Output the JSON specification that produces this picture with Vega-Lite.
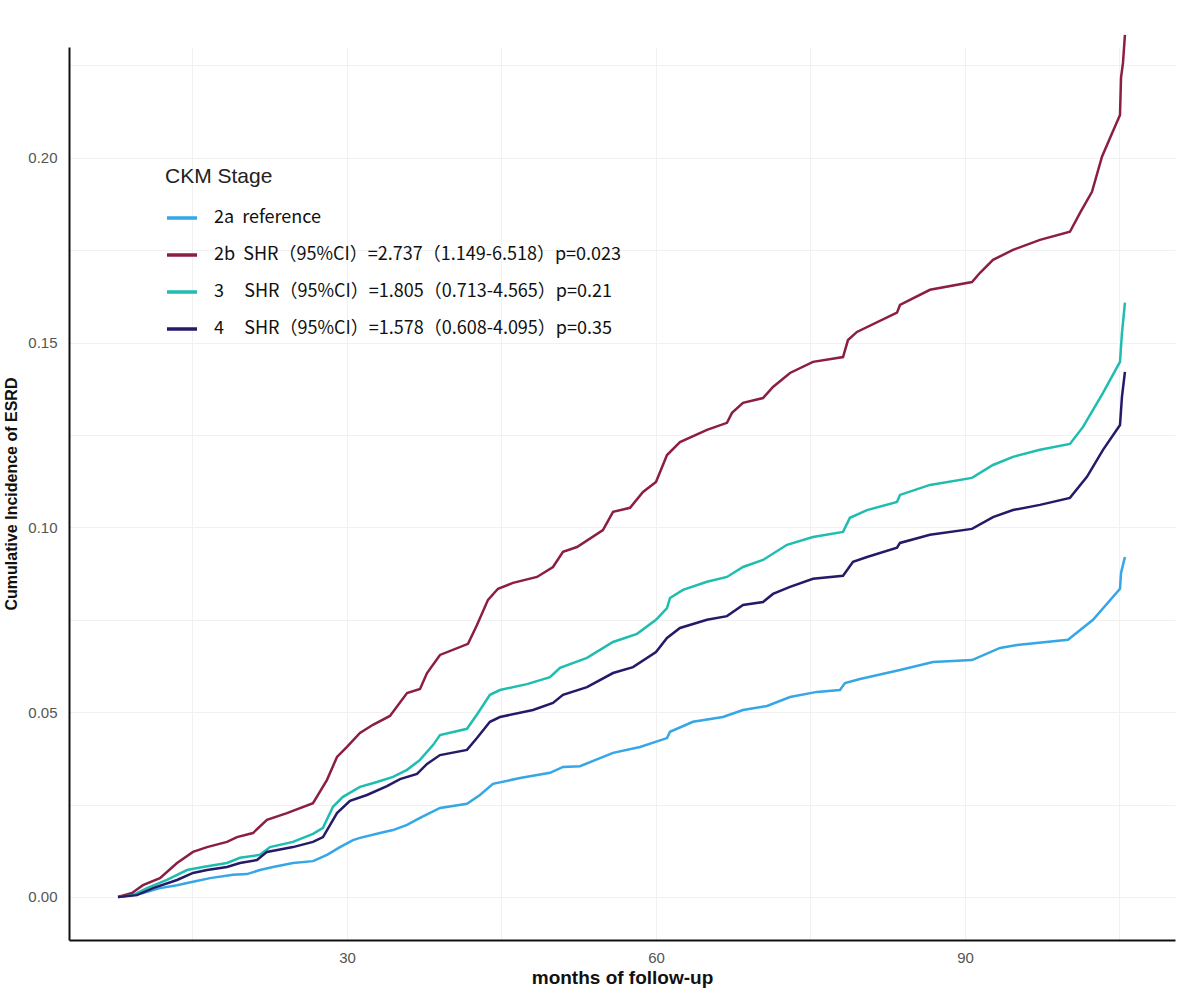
{
  "$schema": "https://vega.github.io/schema/vega-lite/v6.json",
  "width": 1106,
  "height": 893,
  "autosize": "none",
  "padding": {"left": 69, "top": 47, "right": 6, "bottom": 53},
  "background": "white",
  "config": {
    "view": {"stroke": null},
    "font": "Liberation Sans"
  },
  "data": {
    "values": [
      {"stage": "2a", "month": 7.77, "cif": 0},
      {"stage": "2a", "month": 10.19, "cif": 0.0011},
      {"stage": "2a", "month": 11.84, "cif": 0.0024},
      {"stage": "2a", "month": 13.5, "cif": 0.0032},
      {"stage": "2a", "month": 15.05, "cif": 0.0041},
      {"stage": "2a", "month": 16.7, "cif": 0.0051},
      {"stage": "2a", "month": 18.93, "cif": 0.006},
      {"stage": "2a", "month": 20.29, "cif": 0.0062},
      {"stage": "2a", "month": 21.55, "cif": 0.0073},
      {"stage": "2a", "month": 22.82, "cif": 0.0081},
      {"stage": "2a", "month": 24.76, "cif": 0.0092},
      {"stage": "2a", "month": 26.7, "cif": 0.0097},
      {"stage": "2a", "month": 28.06, "cif": 0.0114},
      {"stage": "2a", "month": 29.32, "cif": 0.0135},
      {"stage": "2a", "month": 30.58, "cif": 0.0154},
      {"stage": "2a", "month": 31.26, "cif": 0.016},
      {"stage": "2a", "month": 33.2, "cif": 0.0173},
      {"stage": "2a", "month": 34.47, "cif": 0.0181},
      {"stage": "2a", "month": 35.83, "cif": 0.0195},
      {"stage": "2a", "month": 37.09, "cif": 0.0214},
      {"stage": "2a", "month": 39.03, "cif": 0.0241},
      {"stage": "2a", "month": 41.65, "cif": 0.0252},
      {"stage": "2a", "month": 42.91, "cif": 0.0276},
      {"stage": "2a", "month": 44.17, "cif": 0.0306},
      {"stage": "2a", "month": 46.8, "cif": 0.0322},
      {"stage": "2a", "month": 49.71, "cif": 0.0336},
      {"stage": "2a", "month": 50.97, "cif": 0.0352},
      {"stage": "2a", "month": 52.62, "cif": 0.0354},
      {"stage": "2a", "month": 55.83, "cif": 0.039},
      {"stage": "2a", "month": 58.45, "cif": 0.0406},
      {"stage": "2a", "month": 61.07, "cif": 0.043},
      {"stage": "2a", "month": 61.36, "cif": 0.0447},
      {"stage": "2a", "month": 63.59, "cif": 0.0474},
      {"stage": "2a", "month": 66.5, "cif": 0.0487},
      {"stage": "2a", "month": 68.45, "cif": 0.0506},
      {"stage": "2a", "month": 70.78, "cif": 0.0517},
      {"stage": "2a", "month": 73.01, "cif": 0.0541},
      {"stage": "2a", "month": 75.63, "cif": 0.0555},
      {"stage": "2a", "month": 77.86, "cif": 0.056},
      {"stage": "2a", "month": 78.35, "cif": 0.0579},
      {"stage": "2a", "month": 79.81, "cif": 0.059},
      {"stage": "2a", "month": 83.69, "cif": 0.0614},
      {"stage": "2a", "month": 86.89, "cif": 0.0636},
      {"stage": "2a", "month": 90.68, "cif": 0.0641},
      {"stage": "2a", "month": 93.4, "cif": 0.0674},
      {"stage": "2a", "month": 95.05, "cif": 0.0682},
      {"stage": "2a", "month": 100.0, "cif": 0.0696},
      {"stage": "2a", "month": 102.43, "cif": 0.075},
      {"stage": "2a", "month": 105.05, "cif": 0.0834},
      {"stage": "2a", "month": 105.15, "cif": 0.0877},
      {"stage": "2a", "month": 105.53, "cif": 0.092},

      {"stage": "2b", "month": 7.77, "cif": 0},
      {"stage": "2b", "month": 9.13, "cif": 0.0011},
      {"stage": "2b", "month": 10.19, "cif": 0.0032},
      {"stage": "2b", "month": 11.84, "cif": 0.0051},
      {"stage": "2b", "month": 13.5, "cif": 0.0092},
      {"stage": "2b", "month": 15.05, "cif": 0.0122},
      {"stage": "2b", "month": 16.41, "cif": 0.0135},
      {"stage": "2b", "month": 18.35, "cif": 0.0149},
      {"stage": "2b", "month": 19.32, "cif": 0.0162},
      {"stage": "2b", "month": 20.87, "cif": 0.0173},
      {"stage": "2b", "month": 22.23, "cif": 0.0209},
      {"stage": "2b", "month": 24.17, "cif": 0.0227},
      {"stage": "2b", "month": 26.7, "cif": 0.0254},
      {"stage": "2b", "month": 28.06, "cif": 0.0317},
      {"stage": "2b", "month": 29.03, "cif": 0.0379},
      {"stage": "2b", "month": 30.0, "cif": 0.0406},
      {"stage": "2b", "month": 31.26, "cif": 0.0444},
      {"stage": "2b", "month": 32.52, "cif": 0.0466},
      {"stage": "2b", "month": 34.17, "cif": 0.049},
      {"stage": "2b", "month": 35.83, "cif": 0.0552},
      {"stage": "2b", "month": 37.09, "cif": 0.0563},
      {"stage": "2b", "month": 37.77, "cif": 0.0606},
      {"stage": "2b", "month": 39.03, "cif": 0.0655},
      {"stage": "2b", "month": 41.75, "cif": 0.0685},
      {"stage": "2b", "month": 42.62, "cif": 0.0736},
      {"stage": "2b", "month": 43.69, "cif": 0.0804},
      {"stage": "2b", "month": 44.66, "cif": 0.0834},
      {"stage": "2b", "month": 46.12, "cif": 0.085},
      {"stage": "2b", "month": 48.45, "cif": 0.0866},
      {"stage": "2b", "month": 50.0, "cif": 0.0893},
      {"stage": "2b", "month": 50.97, "cif": 0.0934},
      {"stage": "2b", "month": 52.33, "cif": 0.0947},
      {"stage": "2b", "month": 54.85, "cif": 0.0993},
      {"stage": "2b", "month": 55.83, "cif": 0.1042},
      {"stage": "2b", "month": 57.48, "cif": 0.1053},
      {"stage": "2b", "month": 58.74, "cif": 0.1096},
      {"stage": "2b", "month": 60.0, "cif": 0.1123},
      {"stage": "2b", "month": 61.07, "cif": 0.1196},
      {"stage": "2b", "month": 62.33, "cif": 0.1231},
      {"stage": "2b", "month": 64.95, "cif": 0.1264},
      {"stage": "2b", "month": 66.89, "cif": 0.1283},
      {"stage": "2b", "month": 67.38, "cif": 0.131},
      {"stage": "2b", "month": 68.45, "cif": 0.1337},
      {"stage": "2b", "month": 70.39, "cif": 0.135},
      {"stage": "2b", "month": 71.36, "cif": 0.138},
      {"stage": "2b", "month": 73.01, "cif": 0.1418},
      {"stage": "2b", "month": 75.24, "cif": 0.1448},
      {"stage": "2b", "month": 78.16, "cif": 0.1461},
      {"stage": "2b", "month": 78.64, "cif": 0.1507},
      {"stage": "2b", "month": 79.51, "cif": 0.1529},
      {"stage": "2b", "month": 83.4, "cif": 0.1581},
      {"stage": "2b", "month": 83.69, "cif": 0.1602},
      {"stage": "2b", "month": 86.6, "cif": 0.1643},
      {"stage": "2b", "month": 90.68, "cif": 0.1664},
      {"stage": "2b", "month": 91.46, "cif": 0.1689},
      {"stage": "2b", "month": 92.72, "cif": 0.1724},
      {"stage": "2b", "month": 94.66, "cif": 0.1751},
      {"stage": "2b", "month": 97.28, "cif": 0.1778},
      {"stage": "2b", "month": 100.19, "cif": 0.18},
      {"stage": "2b", "month": 101.17, "cif": 0.1851},
      {"stage": "2b", "month": 102.33, "cif": 0.1908},
      {"stage": "2b", "month": 103.3, "cif": 0.2003},
      {"stage": "2b", "month": 104.08, "cif": 0.2054},
      {"stage": "2b", "month": 105.05, "cif": 0.2116},
      {"stage": "2b", "month": 105.15, "cif": 0.2217},
      {"stage": "2b", "month": 105.34, "cif": 0.2257},
      {"stage": "2b", "month": 105.53, "cif": 0.2333},

      {"stage": "3", "month": 7.77, "cif": 0},
      {"stage": "3", "month": 9.22, "cif": 0.0005},
      {"stage": "3", "month": 10.58, "cif": 0.0024},
      {"stage": "3", "month": 12.52, "cif": 0.0046},
      {"stage": "3", "month": 14.47, "cif": 0.0073},
      {"stage": "3", "month": 16.02, "cif": 0.0081},
      {"stage": "3", "month": 18.35, "cif": 0.0092},
      {"stage": "3", "month": 19.61, "cif": 0.0106},
      {"stage": "3", "month": 21.55, "cif": 0.0114},
      {"stage": "3", "month": 22.52, "cif": 0.0135},
      {"stage": "3", "month": 24.76, "cif": 0.0149},
      {"stage": "3", "month": 26.7, "cif": 0.0171},
      {"stage": "3", "month": 27.67, "cif": 0.0187},
      {"stage": "3", "month": 28.64, "cif": 0.0244},
      {"stage": "3", "month": 29.61, "cif": 0.0271},
      {"stage": "3", "month": 31.26, "cif": 0.0298},
      {"stage": "3", "month": 32.91, "cif": 0.0311},
      {"stage": "3", "month": 34.47, "cif": 0.0325},
      {"stage": "3", "month": 35.83, "cif": 0.0344},
      {"stage": "3", "month": 37.09, "cif": 0.0371},
      {"stage": "3", "month": 38.35, "cif": 0.0411},
      {"stage": "3", "month": 39.03, "cif": 0.0438},
      {"stage": "3", "month": 41.65, "cif": 0.0455},
      {"stage": "3", "month": 42.72, "cif": 0.0498},
      {"stage": "3", "month": 43.88, "cif": 0.0547},
      {"stage": "3", "month": 44.85, "cif": 0.056},
      {"stage": "3", "month": 47.48, "cif": 0.0576},
      {"stage": "3", "month": 49.71, "cif": 0.0595},
      {"stage": "3", "month": 50.68, "cif": 0.062},
      {"stage": "3", "month": 53.3, "cif": 0.0647},
      {"stage": "3", "month": 55.83, "cif": 0.069},
      {"stage": "3", "month": 58.16, "cif": 0.0712},
      {"stage": "3", "month": 60.0, "cif": 0.075},
      {"stage": "3", "month": 61.07, "cif": 0.0782},
      {"stage": "3", "month": 61.36, "cif": 0.0809},
      {"stage": "3", "month": 62.62, "cif": 0.0831},
      {"stage": "3", "month": 64.95, "cif": 0.0853},
      {"stage": "3", "month": 66.89, "cif": 0.0866},
      {"stage": "3", "month": 68.45, "cif": 0.0893},
      {"stage": "3", "month": 70.39, "cif": 0.0912},
      {"stage": "3", "month": 72.72, "cif": 0.0953},
      {"stage": "3", "month": 75.24, "cif": 0.0974},
      {"stage": "3", "month": 78.16, "cif": 0.0988},
      {"stage": "3", "month": 78.83, "cif": 0.1026},
      {"stage": "3", "month": 80.49, "cif": 0.1047},
      {"stage": "3", "month": 83.4, "cif": 0.1069},
      {"stage": "3", "month": 83.69, "cif": 0.1088},
      {"stage": "3", "month": 86.6, "cif": 0.1115},
      {"stage": "3", "month": 90.68, "cif": 0.1134},
      {"stage": "3", "month": 92.72, "cif": 0.1169},
      {"stage": "3", "month": 94.66, "cif": 0.1191},
      {"stage": "3", "month": 97.28, "cif": 0.121},
      {"stage": "3", "month": 100.19, "cif": 0.1226},
      {"stage": "3", "month": 101.46, "cif": 0.1272},
      {"stage": "3", "month": 103.4, "cif": 0.1364},
      {"stage": "3", "month": 105.05, "cif": 0.1448},
      {"stage": "3", "month": 105.24, "cif": 0.1526},
      {"stage": "3", "month": 105.53, "cif": 0.1608},

      {"stage": "4", "month": 7.77, "cif": 0},
      {"stage": "4", "month": 9.61, "cif": 0.0005},
      {"stage": "4", "month": 11.17, "cif": 0.0024},
      {"stage": "4", "month": 13.5, "cif": 0.0046},
      {"stage": "4", "month": 15.05, "cif": 0.0065},
      {"stage": "4", "month": 16.41, "cif": 0.0073},
      {"stage": "4", "month": 18.35, "cif": 0.0081},
      {"stage": "4", "month": 19.61, "cif": 0.0092},
      {"stage": "4", "month": 21.26, "cif": 0.01},
      {"stage": "4", "month": 22.23, "cif": 0.0122},
      {"stage": "4", "month": 24.76, "cif": 0.0135},
      {"stage": "4", "month": 26.7, "cif": 0.0149},
      {"stage": "4", "month": 27.67, "cif": 0.0162},
      {"stage": "4", "month": 29.03, "cif": 0.0227},
      {"stage": "4", "month": 30.29, "cif": 0.026},
      {"stage": "4", "month": 31.94, "cif": 0.0276},
      {"stage": "4", "month": 33.88, "cif": 0.03},
      {"stage": "4", "month": 35.15, "cif": 0.0319},
      {"stage": "4", "month": 36.8, "cif": 0.0333},
      {"stage": "4", "month": 37.77, "cif": 0.036},
      {"stage": "4", "month": 39.03, "cif": 0.0384},
      {"stage": "4", "month": 41.65, "cif": 0.0398},
      {"stage": "4", "month": 42.62, "cif": 0.043},
      {"stage": "4", "month": 43.88, "cif": 0.0474},
      {"stage": "4", "month": 44.85, "cif": 0.0487},
      {"stage": "4", "month": 48.06, "cif": 0.0506},
      {"stage": "4", "month": 50.0, "cif": 0.0525},
      {"stage": "4", "month": 50.97, "cif": 0.0547},
      {"stage": "4", "month": 53.3, "cif": 0.0568},
      {"stage": "4", "month": 55.83, "cif": 0.0606},
      {"stage": "4", "month": 57.77, "cif": 0.0622},
      {"stage": "4", "month": 60.0, "cif": 0.0663},
      {"stage": "4", "month": 61.07, "cif": 0.0701},
      {"stage": "4", "month": 62.33, "cif": 0.0728},
      {"stage": "4", "month": 64.95, "cif": 0.075},
      {"stage": "4", "month": 66.89, "cif": 0.076},
      {"stage": "4", "month": 68.45, "cif": 0.079},
      {"stage": "4", "month": 70.39, "cif": 0.0798},
      {"stage": "4", "month": 71.36, "cif": 0.082},
      {"stage": "4", "month": 73.01, "cif": 0.0839},
      {"stage": "4", "month": 75.24, "cif": 0.0861},
      {"stage": "4", "month": 78.16, "cif": 0.0869},
      {"stage": "4", "month": 79.13, "cif": 0.0907},
      {"stage": "4", "month": 80.49, "cif": 0.092},
      {"stage": "4", "month": 83.4, "cif": 0.0945},
      {"stage": "4", "month": 83.69, "cif": 0.0958},
      {"stage": "4", "month": 86.6, "cif": 0.098},
      {"stage": "4", "month": 90.68, "cif": 0.0996},
      {"stage": "4", "month": 92.72, "cif": 0.1028},
      {"stage": "4", "month": 94.66, "cif": 0.1047},
      {"stage": "4", "month": 97.28, "cif": 0.1061},
      {"stage": "4", "month": 100.19, "cif": 0.108},
      {"stage": "4", "month": 101.84, "cif": 0.1137},
      {"stage": "4", "month": 103.4, "cif": 0.121},
      {"stage": "4", "month": 105.05, "cif": 0.1277},
      {"stage": "4", "month": 105.24, "cif": 0.1353},
      {"stage": "4", "month": 105.53, "cif": 0.1421}
    ]
  },
  "mark": {"type": "line", "strokeWidth": 2.5},
  "encoding": {
    "x": {
      "field": "month",
      "type": "quantitative",
      "scale": {"domain": [3.01, 110.39], "nice": false, "zero": false},
      "axis": {
        "values": [15, 30, 45, 60, 75, 90, 105],
        "labelExpr": "datum.value % 30 === 0 ? datum.label : ''",
        "title": "months of follow-up",
        "titleFontWeight": "bold",
        "titleFontSize": 19,
        "titleColor": "#111111",
        "titlePadding": 3,
        "labelColor": "#555555",
        "labelFontSize": 15,
        "labelPadding": 10,
        "ticks": false,
        "domainColor": "#111111",
        "domainWidth": 2,
        "grid": true,
        "gridColor": "#f1f1f1",
        "gridWidth": 1
      }
    },
    "y": {
      "field": "cif",
      "type": "quantitative",
      "scale": {"domain": [-0.01164, 0.23], "nice": false, "zero": false},
      "axis": {
        "values": [0, 0.025, 0.05, 0.075, 0.1, 0.125, 0.15, 0.175, 0.2, 0.225],
        "labelExpr": "round(datum.value * 1000) % 50 === 0 ? format(datum.value, '.2f') : ''",
        "title": "Cumulative Incidence of ESRD",
        "titleFontWeight": "bold",
        "titleFontSize": 16,
        "titleColor": "#111111",
        "titlePadding": 8,
        "labelColor": "#555555",
        "labelFontSize": 15,
        "labelPadding": 12,
        "ticks": false,
        "domainColor": "#111111",
        "domainWidth": 2,
        "grid": true,
        "gridColor": "#f1f1f1",
        "gridWidth": 1
      }
    },
    "color": {
      "field": "stage",
      "type": "nominal",
      "scale": {
        "domain": ["2a", "2b", "3", "4"],
        "range": ["#35a6e6", "#8c1d45", "#1fbdb0", "#241a68"]
      },
      "legend": {
        "title": "CKM Stage",
        "orient": "none",
        "legendX": 96,
        "legendY": 119,
        "padding": 0,
        "titleFontSize": 21,
        "titleFontWeight": "normal",
        "titleColor": "#222222",
        "titlePadding": 14,
        "symbolType": "stroke",
        "symbolSize": 900,
        "symbolStrokeWidth": 3.5,
        "labelFont": "Noto Sans CJK SC",
        "labelFontSize": 18,
        "labelColor": "#111111",
        "labelOffset": 15,
        "rowPadding": 11,
        "labelLimit": 600,
        "labelExpr": "datum.value === '2a' ? '2a\u00a0\u00a0reference' : datum.value === '2b' ? '2b\u00a0\u00a0SHR（95%CI）=2.737（1.149-6.518）p=0.023' : datum.value === '3' ? '3\u00a0\u00a0\u00a0\u00a0\u00a0SHR（95%CI）=1.805（0.713-4.565）p=0.21' : '4\u00a0\u00a0\u00a0\u00a0\u00a0SHR（95%CI）=1.578（0.608-4.095）p=0.35'"
      }
    }
  }
}
